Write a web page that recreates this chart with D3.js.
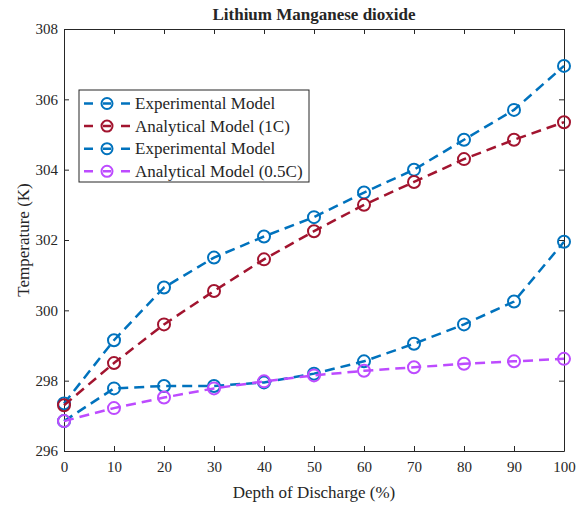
<!DOCTYPE html>
<html>
<head>
<meta charset="utf-8">
<script src="https://cdn.jsdelivr.net/npm/d3@7"></script>
<style>
  body { margin: 0; background: #fff; }
  text { font-family: "Liberation Serif", "Times New Roman", serif; fill: #262626; }
</style>
</head>
<body>
<div id="chart"></div>
<script>
var width = 584, height = 505
var margin = {top: 29, right: 20, bottom: 54, left: 64}

// data
var dod = [0, 10, 20, 30, 40, 50, 60, 70, 80, 90, 100]
var exp1C = [297.35, 299.15, 300.65, 301.5, 302.1, 302.65, 303.35, 304.0, 304.85, 305.7, 306.95]
var ana1C = [297.3, 298.5, 299.6, 300.55, 301.45, 302.25, 303.0, 303.65, 304.3, 304.85, 305.35]
var exp05C = [296.85, 297.78, 297.85, 297.85, 297.95, 298.2, 298.55, 299.05, 299.6, 300.25, 301.95]
var ana05C = [296.85, 297.22, 297.52, 297.78, 297.98, 298.15, 298.28, 298.38, 298.48, 298.55, 298.62]
var seriesNames = ['Experimental Model', 'Analytical Model (1C)', 'Experimental Model', 'Analytical Model (0.5C)']
var seriesColors = ['#0072BD', '#A2142F', '#0072BD', '#BD4BFF']
var xTicks = [0, 10, 20, 30, 40, 50, 60, 70, 80, 90, 100]
var yTicks = [296, 298, 300, 302, 304, 306, 308]

var series = [exp1C, ana1C, exp05C, ana05C]

var svg = d3.select('#chart').append('svg')
  .attr('width', width)
  .attr('height', height)

var x = d3.scaleLinear().domain([0, 100]).range([margin.left, width - margin.right])
var y = d3.scaleLinear().domain([296, 308]).range([height - margin.bottom, margin.top])

// axes (ticks inside, mirrored on top/right)
var axisColor = '#262626'
function styleAxis(g) {
  g.select('.domain').attr('stroke', axisColor).attr('stroke-width', 1)
  g.selectAll('.tick line').attr('stroke', axisColor)
  g.selectAll('.tick text').style('font-size', '15px').attr('fill', axisColor)
    .style('font-family', '"Liberation Serif", serif')
}
svg.append('g')
  .attr('transform', 'translate(0,' + y(296) + ')')
  .call(d3.axisBottom(x).tickValues(xTicks).tickSizeInner(-5).tickSizeOuter(0).tickPadding(10))
  .call(styleAxis)
svg.append('g')
  .attr('transform', 'translate(0,' + y(308) + ')')
  .call(d3.axisTop(x).tickValues(xTicks).tickSizeInner(-5).tickSizeOuter(0).tickFormat(''))
  .call(styleAxis)
svg.append('g')
  .attr('transform', 'translate(' + x(0) + ',0)')
  .call(d3.axisLeft(y).tickValues(yTicks).tickSizeInner(-5).tickSizeOuter(0).tickPadding(6))
  .call(styleAxis)
svg.append('g')
  .attr('transform', 'translate(' + x(100) + ',0)')
  .call(d3.axisRight(y).tickValues(yTicks).tickSizeInner(-5).tickSizeOuter(0).tickFormat(''))
  .call(styleAxis)

// titles
svg.append('text')
  .attr('x', (x(0) + x(100)) / 2).attr('y', 20)
  .attr('text-anchor', 'middle')
  .style('font-size', '17px').style('font-weight', 'bold')
  .text('Lithium Manganese dioxide')
svg.append('text')
  .attr('x', (x(0) + x(100)) / 2).attr('y', 498)
  .attr('text-anchor', 'middle')
  .style('font-size', '17px')
  .text('Depth of Discharge (%)')
svg.append('text')
  .attr('transform', 'translate(29,' + (y(302)) + ') rotate(-90)')
  .attr('text-anchor', 'middle')
  .style('font-size', '17px')
  .text('Temperature (K)')

// lines + markers
var line = d3.line().x(function (d, i) { return x(dod[i]) }).y(function (d) { return y(d) })
series.forEach(function (s, k) {
  var g = svg.append('g')
  g.append('path')
    .datum(s)
    .attr('d', line)
    .attr('fill', 'none')
    .attr('stroke', seriesColors[k])
    .attr('stroke-width', 2.5)
    .attr('stroke-dasharray', '10,6')
  g.selectAll('circle')
    .data(s)
    .enter().append('circle')
    .attr('cx', function (d, i) { return x(dod[i]) })
    .attr('cy', function (d) { return y(d) })
    .attr('r', 6)
    .attr('fill', 'none')
    .attr('stroke', seriesColors[k])
    .attr('stroke-width', 2)
})

// legend
var lg = svg.append('g').attr('transform', 'translate(79,90)')
lg.append('rect')
  .attr('width', 230).attr('height', 92)
  .attr('fill', '#fff').attr('stroke', axisColor).attr('stroke-width', 1)
seriesNames.forEach(function (name, k) {
  var yy = 13.5 + k * 22.6
  lg.append('line')
    .attr('x1', 5).attr('x2', 51).attr('y1', yy).attr('y2', yy)
    .attr('stroke', seriesColors[k]).attr('stroke-width', 2.5)
    .attr('stroke-dasharray', '9,10,8,10,9')
  lg.append('circle')
    .attr('cx', 28).attr('cy', yy).attr('r', 5.5)
    .attr('fill', 'none').attr('stroke', seriesColors[k]).attr('stroke-width', 2)
  lg.append('text')
    .attr('x', 56).attr('y', yy + 5.5)
    .style('font-size', '17px')
    .text(name)
})
</script>
</body>
</html>
